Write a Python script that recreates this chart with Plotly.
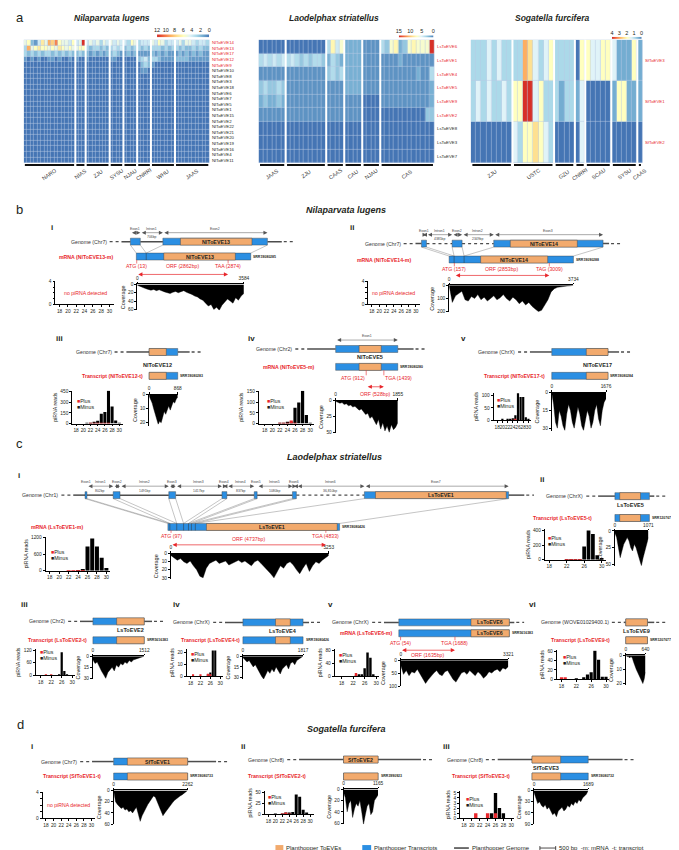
import numpy as np
import plotly.graph_objects as go

W, H = 679, 850
FONT = "Liberation Sans, Arial, sans-serif"
INK = "#231f20"
RED = "#e8262b"
BLUE = "#2b8fe3"
ORANGE = "#f2aa6d"
GLINE = "#4d4d4d"
HEAT_CS = [[0.0, "#4575b4"], [0.125, "#74add1"], [0.25, "#abd9e9"], [0.375, "#e0f3f8"],
           [0.5, "#ffffbf"], [0.625, "#fee090"], [0.75, "#fdae61"], [0.875, "#f46d43"],
           [1.0, "#d73027"]]

# ---------------- panel a: heatmaps (one hex digit per library, groups split by spaces)
NL_GROUPS = ["NARO", "NIAS", "ZJU", "SYSU", "NJAU", "CNRRI", "WHU", "JAAS"]
NL_ROWS = ["NlToEVE14", "NlToEVE13", "NlToEVE17", "NlToEVE12", "NlToEVE9", "NlToEVE10",
           "NlToEVE8", "NlToEVE3", "NlToEVE18", "NlToEVE6", "NlToEVE7", "NlToEVE5",
           "NlToEVE1", "NlToEVE15", "NlToEVE2", "NlToEVE22", "NlToEVE21", "NlToEVE20",
           "NlToEVE19", "NlToEVE16", "NlToEVE4", "NlToEVE11"]
NL_VALUES = [
    "562147598a65546 45c 4545354 5454 4365 3444 5465344 4535543443",
    "395676656576565 566 3233232 3434 2323 3232 3332323 3232232322",
    "323232332323232 232 2121212 2321 1212 1111 2121211 1212121211",
    "101010011010010 100 1000000 1100 0000 2342 3321111 2222111111",
    "000000000000000 000 0000000 0000 0000 0232 1000000 0000000000",
    "000000000000000 000 0000000 0000 0000 0110 0000000 0000000000",
    "000000000000000 000 0000000 0000 0000 0000 0000000 0000000000",
    "000000000000000 000 0000000 0000 0000 0000 0000000 0000000000",
    "000000000000000 000 0000000 0000 0000 0000 0000000 0000000000",
    "000000000000000 000 0000000 0000 0000 0000 0000000 0000000000",
    "000000000000000 000 0000000 0000 0000 0000 0000000 0000000000",
    "000000000000000 000 0000000 0000 0000 0000 0000000 0000000000",
    "000000000000000 000 0000000 0000 0000 0000 0000000 0000000000",
    "000000000000000 000 0000000 0000 0000 0000 0000000 0000000000",
    "000000000000000 000 0000000 0000 0000 0000 0000000 0000000000",
    "000000000000000 000 0000000 0000 0000 0000 0000000 0000000000",
    "000000000000000 000 0000000 0000 0000 0000 0000000 0000000000",
    "000000000000000 000 0000000 0000 0000 0000 0000000 0000000000",
    "000000000000000 000 0000000 0000 0000 0000 0000000 0000000000",
    "000000000000000 000 0000000 0000 0000 0000 0000000 0000000000",
    "000000000000000 000 0000000 0000 0000 0000 0000000 0000000000",
    "000000000000000 000 0000000 0000 0000 0000 0000000 0000000000",
]
NL_TICKS = [12, 10, 8, 6, 4, 2, 0]

LS_GROUPS = ["JAAS", "ZJU", "CAAS", "CAU", "NJAU", "CAS"]
LS_ROWS = ["LsToEVE6", "LsToEVE1", "LsToEVE4", "LsToEVE5", "LsToEVE9", "LsToEVE2",
           "LsToEVE8", "LsToEVE3", "LsToEVE7"]
LS_VALUES = [
    "000000 000000000 4857 2222 1111 43782378777f",
    "454545 454343443 2432 2222 1111 111121111111",
    "111111 111111111 3434 2222 1111 111111112114",
    "343343 111111111 1111 2222 1111 111111111112",
    "232232 111111111 1111 1111 0000 111111111112",
    "111111 111111111 1111 1111 0000 000000000033",
    "000000 000000000 0000 0000 0000 000000000000",
    "000000 000000000 0000 0000 0000 000000000000",
    "000000 000000000 0000 0000 0000 000000000000",
]
LS_TICKS = [15, 10, 5, 0]

SF_GROUPS = ["ZJU", "USTC", "GZU", "CNRRI", "SCAU", "SYSU", "CAAS"]
SF_ROWS = ["SfToEVE3", "SfToEVE1", "SfToEVE2"]
SF_VALUES = [  # half units
    "22232322 22653234 2222 04 43344 31114 1",
    "23232232 44883422 2122 13 00000 14411 1",
    "00000000 32445432 0000 03 00000 00000 0",
]
SF_TICKS = [4, 3, 2, 1, 0]

# ---------------- panels b-d: transcripts, piRNA length profiles, coverage
PIRNA_LEN = [18, 19, 20, 21, 22, 23, 24, 25, 26, 27, 28, 29, 30]
TICKS_2 = [18, 20, 22, 24, 26, 28, 30]
TICKS_4 = [18, 22, 26, 30]

BI_LEN, BI_EXONS, BI_INTRONS = 3584, [0, 310, 3584], [706]
BI_TOEVE, BI_ORF = (860, 3100), (13, 2874, "TAA")
BI_COV = [2, 5, 8, 10, 12, 14, 12, 15, 13, 16, 18, 20, 22, 19, 17, 20, 18, 15, 19, 21,
          24, 28, 30, 35, 38, 45, 52, 48, 60, 55, 62, 50, 42, 35, 40, 45, 32, 38, 28, 22]

BII_LEN, BII_EXONS, BII_INTRONS = 3734, [0, 150, 450, 3734], [4385, 2349]
BII_TOEVE, BII_ORF = (947, 2960), (157, 3009, "TAG")
BII_COV = [0, 130, 80, 60, 45, 110, 120, 85, 100, 70, 110, 90, 120, 100, 80, 110, 95, 70,
           100, 120, 90, 110, 140, 120, 150, 130, 160, 180, 200, 190, 150, 110, 50, 25, 15,
           10, 8, 5, 3, 0]

BIII_LEN, BIII_TOEVE = 868, (0, 520)
BIII_COV = [1, 3, 6, 10, 14, 18, 21, 19, 20, 16, 12, 14, 10, 8, 11, 7, 5, 6, 3, 2]
BIII_MINUS = [0, 0, 0, 1, 5, 15, 40, 140, 165, 470, 240, 45, 5]
BIII_PLUS = [0, 0, 0, 0, 2, 3, 4, 5, 3, 2, 0, 0, 0]

BIV_LEN, BIV_TOEVE, BIV_ORF = 1855, (700, 1360), (912, 1439, "TGA")
BIV_COV = [1, 2, 4, 3, 6, 5, 8, 7, 10, 9, 12, 15, 13, 18, 22, 20, 28, 25, 32, 38, 30, 45,
           35, 48, 40, 50, 38, 46, 42, 35]
BIV_MINUS = [0, 0, 0, 0, 1, 2, 4, 8, 75, 100, 155, 40, 2]
BIV_PLUS = [0, 0, 0, 0, 1, 1, 2, 15, 3, 0, 0, 0, 0]

BV_LEN, BV_TOEVE = 1676, (1030, 1676)
BV_COV = [0, 10, 25, 30, 15, 20, 28, 32, 18, 10, 15, 25, 30, 20, 12, 18, 28, 32, 22, 15,
          20, 30, 25, 15, 10, 22, 28, 15, 8, 5]
BV_MINUS = [0, 0, 3, 0, 2, 3, 8, 20, 110, 95, 95, 12, 2]
BV_PLUS = [0, 0, 0, 0, 0, 0, 1, 2, 0, 0, 0, 0, 0]

CI_LEN, CI_EXONS = 5253, [0, 60, 270, 480, 630, 720, 840, 5253]
CI_INTRONS = [802, 1491, 1417, 837, 1080, 36810]
CI_TOEVE, CI_ORF = (1180, 5180), (97, 4833, "TGA")
CI_COV = [2, 5, 8, 6, 10, 12, 9, 15, 20, 28, 30, 18, 12, 10, 8, 12, 10, 9, 14, 12, 10, 8,
          11, 9, 12, 15, 10, 8, 12, 16, 20, 25, 30, 22, 15, 18, 12, 10, 14, 20, 25, 18, 12,
          22, 15, 10, 12, 8, 5, 2]
CI_MINUS = [0, 0, 0, 0, 0, 0, 5, 30, 870, 1160, 870, 470, 100]
CI_PLUS = [0, 0, 0, 0, 3, 5, 3, 2, 0, 0, 0, 0, 0]

CII_LEN, CII_TOEVE = 1071, (150, 795)
CII_COV = [3, 10, 25, 40, 30, 20, 15, 10, 15, 25, 30, 20, 25, 35, 45, 52, 40, 30, 20, 10]
CII_MINUS = [0, 0, 0, 0, 3, 5, 8, 10, 180, 400, 350, 60, 15]
CII_PLUS = [0, 0, 0, 0, 2, 2, 3, 2, 0, 0, 0, 0, 0]

CIII_LEN, CIII_TOEVE = 1512, (700, 1512)
CIII_COV = [5, 10, 8, 15, 20, 25, 30, 22, 18, 15, 20, 12, 15, 10, 12, 8, 10, 6, 8, 5, 4, 3,
            2, 1, 0]
CIII_MINUS = [0, 0, 0, 0, 0, 0, 0, 3, 110, 20, 2, 0, 0]
CIII_PLUS = [0, 0, 1, 0, 1, 0, 0, 0, 0, 0, 0, 0, 0]

CIV_LEN, CIV_TOEVE = 1817, (985, 1430)
CIV_COV = [2, 5, 8, 6, 10, 15, 12, 18, 22, 28, 32, 25, 20, 24, 18, 22, 15, 20, 25, 18, 15,
           12, 18, 10, 8, 12, 6, 4, 2, 0]
CIV_MINUS = [0, 0, 0, 0, 0, 0, 0, 1, 3, 22, 22, 0, 0]
CIV_PLUS = [0, 1, 0, 0, 1, 0, 0, 2, 1, 0, 0, 0, 0]

CV_LEN, CV_TOEVE, CV_ORF = 3321, (2170, 3321), (54, 1688, "TGA")
CV_COV = [20, 55, 40, 60, 45, 50, 35, 55, 70, 90, 75, 60, 50, 40, 55, 60, 45, 40, 55, 75,
          85, 65, 50, 45, 55, 40, 50, 60, 45, 55, 70, 60, 45, 50, 40, 35, 45, 30, 35, 25]
CV_MINUS = [0, 0, 0, 0, 0, 2, 3, 3, 25, 75, 58, 3, 0]
CV_PLUS = [0, 0, 0, 0, 0, 10, 0, 0, 0, 0, 0, 0, 0]

CVI_LEN, CVI_TOEVE = 640, (0, 640)
CVI_COV = [0, 1, 1, 2, 1, 2, 5, 8, 10, 12, 14, 16, 18, 20, 17, 12]
CVI_MINUS = [0, 0, 0, 0, 1, 0, 2, 10, 15, 62, 42, 5, 5]
CVI_PLUS = [2, 2, 0, 0, 0, 0, 0, 0, 0, 0, 0, 0, 0]

DI_LEN, DI_TOEVE = 2262, (420, 2262)
DI_COV = [0, 20, 25, 28, 32, 30, 35, 33, 38, 36, 40, 35, 30, 42, 55, 45, 38, 30, 25, 20,
          15, 10, 12, 20, 28, 35, 45, 40, 35, 30, 25, 22, 18, 15, 12, 10, 8, 5, 3, 0]

DII_LEN, DII_TOEVE = 1165, (0, 1165)
DII_COV = [5, 15, 40, 25, 20, 50, 35, 25, 30, 20, 40, 62, 45, 30, 25, 45, 40, 20, 15, 10]
DII_MINUS = [0, 0, 1, 0, 1, 2, 3, 5, 45, 40, 10, 2, 0]
DII_PLUS = [0, 0, 0, 0, 1, 2, 1, 0, 0, 0, 0, 0, 0]

DIII_LEN, DIII_TOEVE = 1689, (0, 860)
DIII_COV = [5, 20, 35, 30, 40, 45, 38, 50, 45, 55, 65, 60, 70, 55, 50, 45, 55, 50, 40, 45,
            35, 40, 30, 35, 25, 30, 20, 15, 10, 0]
DIII_MINUS = [0, 0, 0, 0, 0, 0, 0, 1, 5, 2, 1, 0, 0]
DIII_PLUS = [0, 0, 0, 1, 0, 0, 1, 0, 1, 0, 0, 0, 0]

# ------------------------------------------------------------------ helpers
traces, shapes, annots = [], [], []
layout = dict(width=W, height=H, margin=dict(l=0, r=0, t=0, b=0), paper_bgcolor="white",
              plot_bgcolor="rgba(0,0,0,0)", showlegend=False, barmode="overlay",
              font=dict(family=FONT, size=6, color=INK))
n_axes = [0]


def fx(p):
    return p / W


def fy(p):
    return 1 - p / H


def new_axes(x0, x1, y0, y1, xa, ya):
    n_axes[0] += 1
    n = "" if n_axes[0] == 1 else str(n_axes[0])
    layout["xaxis" + n] = dict(domain=[fx(x0), fx(x1)], anchor="y" + n, **xa)
    layout["yaxis" + n] = dict(domain=[fy(y1), fy(y0)], anchor="x" + n, **ya)
    traces.append(go.Scatter(x=[], y=[], xaxis="x" + n, yaxis="y" + n))
    return "x" + n, "y" + n


def tiny(**kw):
    d = dict(showline=True, linecolor="black", linewidth=0.8, ticks="outside", ticklen=2,
             tickwidth=0.6, tickcolor="black", showgrid=False, zeroline=False, fixedrange=True,
             tickangle=0, tickfont=dict(size=4.8, family=FONT, color=INK))
    d.update(kw)
    return d


def txt(x, y, s, size=5.2, color=INK, anchor="center", xref="paper", yref="paper",
        angle=0, xshift=0):
    annots.append(dict(x=fx(x) if xref == "paper" else x, y=fy(y) if yref == "paper" else y,
                       xref=xref, yref=yref, text=s, showarrow=False, xanchor=anchor,
                       yanchor="middle", textangle=angle, xshift=xshift, borderpad=0,
                       font=dict(size=size, color=color, family=FONT)))


def seg(x0, y0, x1, y1, color, width, dash="solid", xref="paper"):
    cx = fx if xref == "paper" else (lambda v: v)
    shapes.append(dict(type="line", xref=xref, yref="paper", x0=cx(x0), x1=cx(x1),
                       y0=fy(y0), y1=fy(y1), line=dict(color=color, width=width, dash=dash)))


def rect(x0, x1, y0, y1, fill, xref="paper", lc=None, lw=0, layer="above"):
    cx = fx if xref == "paper" else (lambda v: v)
    shapes.append(dict(type="rect", xref=xref, yref="paper", x0=cx(x0), x1=cx(x1),
                       y0=fy(y1), y1=fy(y0), fillcolor=fill, layer=layer,
                       line=dict(color=lc or fill, width=lw)))


def harrow(x0, x1, y, color, xref, width=0.5, size=1.6):
    annots.append(dict(x=x1, y=fy(y), ax=x0, ay=0, xref=xref, yref="paper", axref=xref,
                       ayref="pixel", text="", showarrow=True, arrowhead=2, startarrowhead=2,
                       arrowside="end+start", arrowsize=size, startarrowsize=size,
                       arrowwidth=width, arrowcolor=color, standoff=0, startstandoff=0))


# ------------------------------------------------------------------ panel a
def heat_panel(title, tx, rows, groups, values, unit, vmax, ticks, n_red, x0, x1, cb):
    chunks = [r.split() for r in values]
    z = [[int(c, 16) * unit for c in "".join(ch)] for ch in chunks]
    sizes = [len(c) for c in chunks[0]]
    ncol = sum(sizes)
    hx, hy = new_axes(x0, x1, 30, 154, dict(range=[-0.5, ncol - 0.5], visible=False),
                      dict(range=[len(rows) - 0.5, -0.5], visible=False))
    rect(x0, x1, 30, 154, "#b7c9e3", layer="below")
    traces.append(go.Heatmap(z=z, xaxis=hx, yaxis=hy, colorscale=HEAT_CS, zmin=0, zmax=vmax,
                             showscale=False, xgap=0.5, ygap=0.5, hoverinfo="skip"))
    start = 0
    for name, n in zip(groups, sizes):
        if start > 0:
            seg(start - 0.5, 30, start - 0.5, 157.5, "white", 2, xref=hx)
        seg(start - 0.5 + 0.3, 156, start + n - 0.5 - 0.3, 156, "#111", 2, xref=hx)
        txt(start + (n - 1) / 2, 165, name, size=5.5, color="#333", angle=-35, xref=hx)
        start += n
    for i, r in enumerate(rows):
        txt(x1 + 1.5, i, r, size=4.3, color=RED if i < n_red else INK, anchor="left", yref=hy)
    bx, by = new_axes(cb[0], cb[1], cb[2], cb[3],
                      dict(range=[vmax, 0], side="top", tickvals=ticks, ticks="",
                           showline=False, showgrid=False, zeroline=False, fixedrange=True,
                           tickfont=dict(size=5.5, family=FONT, color=INK)),
                      dict(range=[0, 1], visible=False))
    traces.append(go.Heatmap(z=[[0, vmax], [0, vmax]], x=[0, vmax], y=[0, 1], zsmooth="best",
                             colorscale=HEAT_CS, zmin=0, zmax=vmax, showscale=False,
                             xaxis=bx, yaxis=by, hoverinfo="skip"))
    txt(tx, 8, "<b><i>" + title + "</i></b>", size=8.5)


txt(4, 8, "a", size=13, anchor="left")
heat_panel("Nilaparvata lugens", 102, NL_ROWS, NL_GROUPS, NL_VALUES, 1, 12, NL_TICKS, 5,
           13, 201, (148, 201, 24.5, 27.5))
heat_panel("Laodelphax striatellus", 327, LS_ROWS, LS_GROUPS, LS_VALUES, 1, 15, LS_TICKS, 6,
           251, 429, (393, 428, 25.5, 28))
heat_panel("Sogatella furcifera", 548, SF_ROWS, SF_GROUPS, SF_VALUES, 0.5, 4, SF_TICKS, 3,
           466, 640, (609, 639, 27, 29.5))


# ------------------------------------------------------------------ panels b-d
def pir(x, y, xr, ymax, yt, xt, minus=None, plus=None, leg=None, msg=None):
    return dict(x=x, y=y, xr=xr, ymax=ymax, yt=yt, xt=xt, minus=minus, plus=plus, leg=leg, msg=msg)


def cov(x, y, ymax, ticks, vals):
    return dict(x=x, y=y, ymax=ymax, ticks=ticks, vals=vals)


EMPTY_YT = [0, 1, 2, 3, 4]

GENES = [
    dict(roman="i", rxy=(40, 219), pa=0, pb=340, p0=127, p1=243, L=BI_LEN, gy=233, my=248,
         glabel="Genome (Chr7)", exons=BI_EXONS, introns=BI_INTRONS, idraw=[706],
         offset=-185, flank=(280, 450), toeve=BI_TOEVE, name="NlToEVE13", name_y=None,
         name_m=True, mlabel="mRNA (NlToEVE13-m)", mlx=104, srr="SRR19080285", features=True,
         orf=BI_ORF, orf_y=(258, 266, 258),
         cov=cov((128, 236), (276, 302), 62, [0, 20, 40, 60], BI_COV),
         pir=pir((45, 104), (273, 296), (17, 31), 4, EMPTY_YT, TICKS_2, msg=(75, 285))),
    dict(roman="ii", rxy=(343, 219), pa=340, pb=679, p0=444, p1=570, L=BII_LEN, gy=235, my=251,
         glabel="Genome (Chr7)", exons=BII_EXONS, introns=BII_INTRONS, idraw=[770, 950],
         offset=-830, flank=(180, 180), toeve=BII_TOEVE, name="NlToEVE14", name_y=None,
         name_m=True, mlabel="mRNA (NlToEVE14-m)", mlx=406, srr="SRR19090288", features=True,
         orf=BII_ORF, orf_y=(261, 267, 261),
         cov=cov((444, 570), (277, 304), 205, [0, 100, 200], BII_COV),
         pir=pir((362, 414), (273, 296), (17, 31), 4, EMPTY_YT, TICKS_2, msg=(388, 285))),
    dict(roman="iii", rxy=(45, 330), pa=0, pb=230, p0=140, p1=169, L=BIII_LEN, gy=344, my=368,
         glabel="Genome (Chr7)", exons=[0, BIII_LEN], introns=[], idraw=[], offset=0,
         flank=(690, 360), toeve=BIII_TOEVE, name="NlToEVE12", name_y=357, name_m=False,
         mlabel="Transcript (NlToEVE12-t)", mlx=135, srr="SRR19080283",
         cov=cov((140, 169), (387, 418), 22, [0, 10, 20], BIII_COV),
         pir=pir((62, 113), (383, 416), (16.9, 30.9), 465, [0, 150, 300, 450], TICKS_2,
                 BIII_MINUS, BIII_PLUS, (66, 393))),
    dict(roman="iv", rxy=(239, 330), pa=230, pb=450, p0=329, p1=392, L=BIV_LEN, gy=341, my=359,
         glabel="Genome (Chr2)", exons=[0, BIV_LEN], introns=[], idraw=[], offset=0,
         flank=(850, 470), toeve=BIV_TOEVE, name="NlToEVE5", name_y=349.5, name_m=False,
         mlabel="mRNA (NlToEVE5-m)", mlx=309, srr="SRR19080280", features=True,
         orf=BIV_ORF, orf_y=(370.5, 379, 386), orf_anchor=("right", "left"),
         cov=cov((329, 392), (393, 426), 52, [0, 25, 50], BIV_COV),
         pir=pir((251, 307), (383, 416), (16.4, 31), 155, [0, 50, 100, 150], TICKS_2,
                 BIV_MINUS, BIV_PLUS, (258, 393))),
    dict(roman="v", rxy=(455, 330), pa=450, pb=679, p0=548, p1=605, L=BV_LEN, gy=344, my=368,
         glabel="Genome (ChrX)", exons=[0, BV_LEN], introns=[], idraw=[], offset=0,
         flank=(650, 330), toeve=BV_TOEVE, name="NlToEVE17", name_y=357, name_m=False,
         mlabel="Transcript (NlToEVE17-t)", mlx=542, srr="SRR19080284",
         cov=cov((548, 603), (385, 423), 32, [0, 15, 30], BV_COV),
         pir=pir((489, 527), (385, 412.5), (16.6, 31), 112, [0, 50, 100], TICKS_2,
                 BV_MINUS, BV_PLUS, (492, 392))),
    dict(roman="i", rxy=(6, 468), pa=0, pb=530, p0=159, p1=333, L=CI_LEN, gy=488, my=520,
         glabel="Genome (Chr1)", exons=CI_EXONS, introns=CI_INTRONS,
         idraw=[802, 1491, 1417, 837, 1080, 2080], offset=-2536, flank=(360, 480),
         toeve=CI_TOEVE, name="LsToEVE1", name_y=None, name_m=True,
         mlabel="mRNA (LsToEVE1-m)", mlx=74, srr="SRR19080426", features=True,
         orf=CI_ORF, orf_y=(529, 538, 532),
         cov=cov((162, 322), (547, 572), 31, [0, 10, 20, 30], CI_COV),
         pir=pir((35, 100), (530, 564), (17.1, 30.7), 1220, [0, 600, 1200], TICKS_2,
                 CI_MINUS, CI_PLUS, (40, 545))),
    dict(roman="ii", rxy=(535, 472), pa=530, pb=679, p0=612, p1=647, L=CII_LEN, gy=489, my=511,
         glabel="Genome (ChrX)", exons=[0, CII_LEN], introns=[], idraw=[], offset=0,
         flank=(520, 150), toeve=CII_TOEVE, name="LsToEVE5", name_y=497.5, name_m=False,
         mlabel="Transcript (LsToEVE5-t)", mlx=590, srr="SRR12076773",
         cov=cov((612, 646), (524, 559), 52, [0, 25, 50], CII_COV),
         pir=pir((541, 603), (522, 553), (17, 31), 420, [0, 200, 400], TICKS_4,
                 CII_MINUS, CII_PLUS, (543, 531))),
    dict(roman="iii", rxy=(9, 598), pa=0, pb=160, p0=83, p1=135, L=CIII_LEN, gy=615, my=634,
         glabel="Genome (Chr2)", exons=[0, CIII_LEN], introns=[], idraw=[], offset=0,
         flank=(380, 230), toeve=CIII_TOEVE, name="LsToEVE2", name_y=623.5, name_m=False,
         mlabel="Transcript (LsToEVE2-t)", mlx=78, srr="SRR5616383",
         cov=cov((83, 135), (650, 673), 31, [0, 15, 30], CIII_COV),
         pir=pir((25, 65), (643, 669), (16.1, 31.1), 125, [0, 60, 120], TICKS_4,
                 CIII_MINUS, CIII_PLUS, (28, 646))),
    dict(roman="iv", rxy=(163, 598), pa=160, pb=315, p0=235, p1=296, L=CIV_LEN, gy=616, my=634,
         glabel="Genome (ChrX)", exons=[0, CIV_LEN], introns=[], idraw=[], offset=0,
         flank=(540, 180), toeve=CIV_TOEVE, name="LsToEVE4", name_y=624.5, name_m=False,
         mlabel="Transcript (LsToEVE4-t)", mlx=233, srr="SRR19080426",
         cov=cov((235, 296), (650, 673), 32, [0, 15, 30], CIV_COV),
         pir=pir((178, 215), (643, 670), (16.4, 31.2), 23, [0, 10, 20], TICKS_4,
                 CIV_MINUS, CIV_PLUS, (181, 648))),
    dict(roman="v", rxy=(320, 598), pa=315, pb=520, p0=393, p1=505, L=CV_LEN, gy=616, my=627,
         glabel="Genome (ChrX)", exons=[0, CV_LEN], introns=[], idraw=[], offset=0,
         flank=(445, 150), toeve=CV_TOEVE, name="LsToEVE6", name_y=None, name_m=True,
         mlabel="mRNA (LsToEVE6-m)", mlx=387, srr="SRR5616383",
         orf=CV_ORF, orf_y=(637, 644, 649),
         cov=cov((395, 504), (654, 680), 100, [0, 50, 100], CV_COV),
         pir=pir((328, 373), (643, 670), (15.6, 31), 85, [0, 40, 80], TICKS_4,
                 CV_MINUS, CV_PLUS, (331, 649))),
    dict(roman="vi", rxy=(524, 598), pa=520, pb=679, p0=623, p1=645, L=CVI_LEN, gy=616, my=634,
         glabel="Genome (WOVE01029400.1)", exons=[0, CVI_LEN], introns=[], idraw=[], offset=0,
         flank=(60, 200), toeve=CVI_TOEVE, name="LsToEVE9", name_y=624.5, name_m=False,
         mlabel="Transcript (LsToEVE9-t)", mlx=608, srr="SRR12076773",
         cov=cov((623, 643), (649, 679), 21, [0, 10, 20], CVI_COV),
         pir=pir((553, 606), (644, 673), (16.7, 30.8), 63, [0, 20, 40, 60], TICKS_4,
                 CVI_MINUS, CVI_PLUS, (558, 651))),
    dict(roman="i", rxy=(19, 741), pa=0, pb=225, p0=104, p1=179, L=DI_LEN, gy=756, my=771,
         glabel="Genome (Chr7)", exons=[0, DI_LEN], introns=[], idraw=[], offset=0,
         flank=(660, 870), toeve=DI_TOEVE, name="SfToEVE1", name_y=None, name_m=False,
         mlabel="Transcript (SfToEVE1-t)", mlx=92, srr="SRR19080733",
         cov=cov((104, 179), (785, 819), 60, [0, 20, 40, 60], DI_COV),
         pir=pir((32, 85), (787, 813), (17.1, 30.9), 4, EMPTY_YT, TICKS_2, msg=(58, 800))),
    dict(roman="ii", rxy=(232, 741), pa=225, pb=430, p0=337, p1=372, L=DII_LEN, gy=754, my=771,
         glabel="Genome (Chr8)", exons=[0, DII_LEN], introns=[], idraw=[], offset=0,
         flank=(1500, 1450), toeve=DII_TOEVE, name="SfToEVE2", name_y=None, name_m=False,
         mlabel="Transcript (SfToEVE2-t)", mlx=300, srr="SRR3990923",
         cov=cov((337, 372), (784, 819), 62, [0, 20, 40, 60], DII_COV),
         pir=pir((257, 307), (786, 809), (16.9, 31.1), 52, [0, 25, 50], TICKS_2,
                 DII_MINUS, DII_PLUS, (259, 792))),
    dict(roman="iii", rxy=(437, 741), pa=430, pb=679, p0=528, p1=585, L=DIII_LEN, gy=754, my=771,
         glabel="Genome (Chr8)", exons=[0, DIII_LEN], introns=[], idraw=[], offset=0,
         flank=(1030, 1030), toeve=DIII_TOEVE, name="SfToEVE3", name_y=762.5, name_m=False,
         mlabel="Transcript (SfToEVE3-t)", mlx=507, srr="SRR19080732",
         cov=cov((530, 585), (785, 819), 90, [0, 30, 60, 90], DIII_COV),
         pir=pir((455, 510), (786, 813), (17, 30.75), 5.3, [0, 1, 2, 3, 4, 5], TICKS_2,
                 DIII_MINUS, DIII_PLUS, (460, 794))),
]


def gene_panel(g):
    L, p0, p1 = g["L"], g["p0"], g["p1"]
    s = L / (p1 - p0)
    gx, _ = new_axes(g["pa"], g["pb"], g["gy"] - 2, g["gy"] + 2,
                     dict(range=[(g["pa"] - p0) * s, (g["pb"] - p0) * s], visible=False,
                          fixedrange=True),
                     dict(range=[0, 1], visible=False, fixedrange=True))
    txt(g["rxy"][0], g["rxy"][1], "<b>" + g["roman"] + "</b>", size=8, anchor="left")

    eb, intr, idraw = g["exons"], g["introns"], g["idraw"]
    gex, pos = [], g["offset"]
    for k in range(len(eb) - 1):
        gex.append((pos, pos + eb[k + 1] - eb[k]))
        if k < len(intr):
            pos = gex[-1][1] + idraw[k]

    def m2g(m):
        for k in range(len(gex)):
            if eb[k] <= m <= eb[k + 1]:
                return gex[k][0] + m - eb[k]

    y, my, h = g["gy"], g["my"], 3.5
    start, end = gex[0][0] - g["flank"][0], gex[-1][1] + g["flank"][1]
    seg(start, y, gex[0][0], y, GLINE, 1.5, xref=gx)
    for k in range(len(gex) - 1):
        squeezed = idraw[k] < intr[k]
        seg(gex[k][1], y, gex[k + 1][0], y, GLINE, 1.2 if squeezed else 1.5,
            dash="dot" if squeezed else "solid", xref=gx)
    seg(gex[-1][1], y, end, y, GLINE, 1.5, xref=gx)
    dl = 10 * s
    seg(start - 2 * s - dl, y, start - 2 * s, y, GLINE, 1.3, dash="dot", xref=gx)
    seg(end + 2 * s, y, end + 2 * s + dl, y, GLINE, 1.3, dash="dot", xref=gx)
    txt(start - 4 * s - dl, y, g["glabel"], size=5.2, anchor="right", xref=gx, color="#333")

    if len(eb) > 2:
        for k, (a, b) in enumerate(gex):
            seg(a, y + h, eb[k], my - h, "#8a8a8a", 0.5, xref=gx)
            seg(b, y + h, eb[k + 1], my - h, "#8a8a8a", 0.5, xref=gx)

    o0, o1 = g["toeve"]
    for k, (a, b) in enumerate(gex):
        rect(a, b, y - h, y + h, BLUE, xref=gx, lc="#3a3a3a", lw=0.4)
        lo, hi = max(o0, eb[k]), min(o1, eb[k + 1])
        if lo < hi:
            rect(a + lo - eb[k], a + hi - eb[k], y - h, y + h, ORANGE, xref=gx, lc="#3a3a3a", lw=0.4)
    label = "<b>" + g["name"] + "</b>"
    if g["name_y"] is None:
        txt(m2g((o0 + o1) / 2), y, label, size=5.3, xref=gx)
    else:
        txt(m2g((o0 + o1) / 2), g["name_y"], label, size=5.5, xref=gx)

    if g.get("features"):
        for k, (a, b) in enumerate(gex):
            txt((a + b) / 2, y - 13, "Exon%d" % (k + 1), size=3.4, xref=gx, color="#444")
            harrow(a, b, y - 9, "#555", gx)
            if k < len(gex) - 1:
                c0, c1 = b, gex[k + 1][0]
                n = intr[k]
                txt((c0 + c1) / 2, y - 13, "Intron%d" % (k + 1), size=3.4, xref=gx, color="#444")
                harrow(c0, c1, y - 9, "#555", gx)
                txt((c0 + c1) / 2, y - 4.6, (f"{n:,}" if n >= 10000 else str(n)) + "bp",
                    size=3.4, xref=gx, color="#444")

    rect(0, L, my - h, my + h, BLUE, xref=gx, lc="#3a3a3a", lw=0.4)
    rect(o0, o1, my - h, my + h, ORANGE, xref=gx, lc="#3a3a3a", lw=0.4)
    for b in eb[1:-1]:
        seg(b, my - h, b, my + h, "#333", 0.5, xref=gx)
    if g["name_m"]:
        txt((o0 + o1) / 2, my, label, size=5.3, xref=gx)
    txt(L, my, "<b>" + g["srr"] + "</b>", size=3.5, anchor="left", xref=gx, xshift=1.5)
    txt(g["mlx"], my, "<b>" + g["mlabel"] + "</b>", size=5.2, color=RED, anchor="right")

    if g.get("orf"):
        a0, a1, codon = g["orf"]
        ly, ay, oy = g["orf_y"]
        anc = g.get("orf_anchor", ("center", "center"))
        for p, lab, an in ((a0, "ATG (%d)" % a0, anc[0]), (a1, "%s (%d)" % (codon, a1), anc[1])):
            seg(p, my + h, p, ly - 3, RED, 0.6, xref=gx)
            txt(p, ly, lab, size=5.2, color=RED, anchor=an, xref=gx)
        harrow(a0, a1, ay, RED, gx, width=0.7, size=1.2)
        txt((a0 + a1) / 2, oy, "ORF (%dbp)" % (a1 - a0 + 1), size=5.2, color=RED, xref=gx)

    c = g["cov"]
    cx, cy = new_axes(c["x"][0], c["x"][1], c["y"][0], c["y"][1],
                      tiny(range=[0, L], side="top", tickvals=[0, L], ticklen=1.5),
                      tiny(range=[c["ymax"], 0], tickvals=c["ticks"],
                           title=dict(text="Coverage", standoff=2,
                                      font=dict(size=5.5, family=FONT, color=INK))))
    traces.append(go.Scatter(x=np.linspace(0, L, len(c["vals"])), y=c["vals"], xaxis=cx,
                             yaxis=cy, mode="lines", line=dict(color="black", width=0.4),
                             fill="tozeroy", fillcolor="black", hoverinfo="skip"))

    p = g["pir"]
    has = p["minus"] is not None
    ytitle = dict(text="piRNA reads", standoff=2, font=dict(size=5.2, family=FONT, color=INK))
    qx, qy = new_axes(p["x"][0], p["x"][1], p["y"][0], p["y"][1],
                      tiny(range=list(p["xr"]), tickvals=p["xt"]),
                      tiny(range=[0, p["ymax"]], tickvals=p["yt"],
                           ticktext=None if has else ["0", "", "", "", "4"],
                           title=ytitle if has else None))
    if has:
        traces.append(go.Bar(x=PIRNA_LEN, y=p["minus"], xaxis=qx, yaxis=qy, width=0.85,
                             marker=dict(color="black", line=dict(width=0)), hoverinfo="skip"))
        traces.append(go.Bar(x=PIRNA_LEN, y=p["plus"], xaxis=qx, yaxis=qy, width=0.85,
                             marker=dict(color=RED, line=dict(width=0)), hoverinfo="skip"))
        lx, ly = p["leg"]
        txt(lx, ly, "<span style='color:%s'>■</span>Plus" % RED, size=5.2, anchor="left")
        txt(lx, ly + 6, "■Minus", size=5.2, anchor="left")
    else:
        txt(p["msg"][0], p["msg"][1], "no piRNA detected", size=5.2, color=RED)


txt(4, 201, "b", size=13, anchor="left")
txt(340, 201, "<b><i>Nilaparvata lugens</i></b>", size=9)
txt(4, 436, "c", size=13, anchor="left")
txt(328, 450, "<b><i>Laodelphax striatellus</i></b>", size=9)
txt(5, 719, "d", size=13, anchor="left")
txt(340, 723, "<b><i>Sogatella furcifera</i></b>", size=9)

for g in GENES:
    gene_panel(g)

# bottom key
KEY_Y = 843
rect(268, 276, KEY_Y - 3, KEY_Y + 3, ORANGE)
txt(278, KEY_Y, "Planthopper ToEVEs", size=6, anchor="left")
rect(356, 365, KEY_Y - 3, KEY_Y + 3, BLUE)
txt(367, KEY_Y, "Planthopper Transcripts", size=6, anchor="left")
seg(449, KEY_Y, 464, KEY_Y, GLINE, 1.6)
txt(466, KEY_Y, "Planthopper Genome", size=6, anchor="left")
seg(536, KEY_Y, 552, KEY_Y, INK, 0.8)
seg(536, KEY_Y - 2, 536, KEY_Y + 2, INK, 0.8)
seg(552, KEY_Y - 2, 552, KEY_Y + 2, INK, 0.8)
txt(554, KEY_Y, "500 bp  -m: mRNA  -t: transcript", size=6, anchor="left")

layout["shapes"] = shapes
layout["annotations"] = annots
fig = go.Figure(data=traces, layout=layout)
fig.write_html("out.html")
